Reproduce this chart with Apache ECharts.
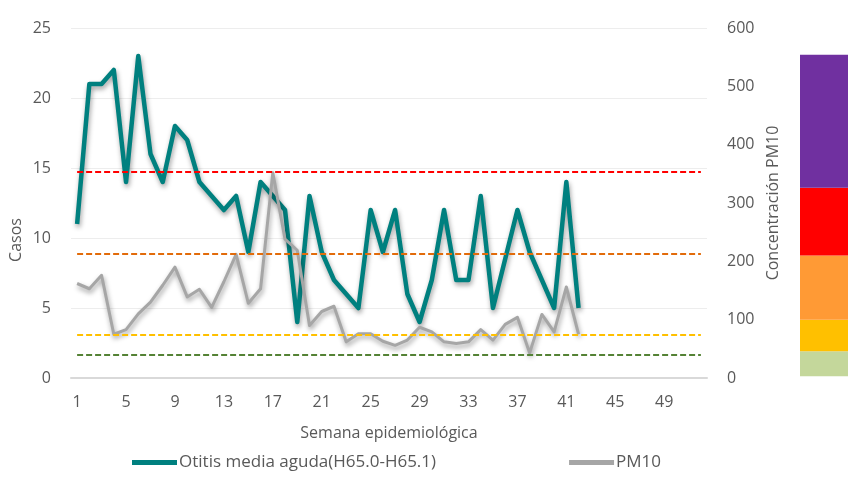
<!DOCTYPE html>
<html>
<head>
<meta charset="utf-8">
<script src="https://cdn.jsdelivr.net/npm/echarts@6/dist/echarts.min.js"></script>
<style>
  html, body { margin: 0; padding: 0; background: #ffffff; }
  #chart { width: 856px; height: 477px; }
</style>
</head>
<body>
<div id="chart"></div>
<script>
// Epidemiological weeks 1..52
const weeks = Array.from({ length: 52 }, (_, i) => String(i + 1));

// Weekly cases of acute otitis media (left axis)
const otitis = [11, 21, 21, 22, 14, 23, 16, 14, 18, 17, 14, 13, 12, 13, 9, 14, 13, 12, 4, 13,
  9, 7, 6, 5, 12, 9, 12, 6, 4, 7, 12, 7, 7, 13, 5, 8.5, 12, 9, 7, 5, 14, 5];

// Weekly PM10 concentration (right axis)
const pm10 = [162, 153, 176, 75, 83, 110, 130, 159, 190, 139, 152, 121, 165, 212, 128, 153, 352, 238, 219, 90,
  114, 123, 62, 76, 76, 63, 56, 65, 87, 79, 62, 59, 62, 83, 65, 92, 104, 43, 109, 79, 156, 75];

// PM10 reference thresholds (dashed lines)
const thresholds = [
  { value: 354, color: '#FF0000' },
  { value: 213, color: '#E26B0A' },
  { value: 75, color: '#FFC000' },
  { value: 40, color: '#548235' }
];

// Colour scale bands on the right (bottom offset, then band heights)
const bandNames = ['base', 'Bueno', 'Aceptable', 'Dañino grupos sensibles', 'Dañino', 'Muy dañino'];
const bandValues = [3, 43, 54, 110, 116, 228];
const bandColors = ['transparent', '#C4D79B', '#FFC000', '#FF9A35', '#FF0000', '#7030A0'];

const leftTicks = { min: 0, max: 25, interval: 5 };
const rightTicks = { min: 0, max: 600, interval: 100 };

const FONT = 'Open Sans';
const TXT = '#595959';

const chart = echarts.init(document.getElementById('chart'));

const shadow = { shadowColor: 'rgba(0,0,0,0.38)', shadowBlur: 5, shadowOffsetY: 3, shadowOffsetX: 1 };

const series = [
  {
    name: 'umbrales',
    type: 'line',
    xAxisIndex: 0,
    yAxisIndex: 1,
    data: [],
    silent: true,
    z: 1,
    markLine: {
      symbol: ['none', 'none'],
      silent: true,
      label: { show: false },
      animation: false,
      data: thresholds.map(t => [
        { coord: [weeks[0], t.value], lineStyle: { color: t.color, type: [6, 3], width: 2 } },
        { coord: [weeks[weeks.length - 1], t.value] }
      ])
    }
  },
  {
    name: 'Otitis media aguda(H65.0-H65.1)',
    type: 'line',
    xAxisIndex: 0,
    yAxisIndex: 0,
    data: otitis,
    symbol: 'none',
    z: 3,
    lineStyle: Object.assign({ color: '#00807F', width: 4.5, join: 'round' }, shadow),
    itemStyle: { color: '#00807F' }
  },
  {
    name: 'PM10',
    type: 'line',
    xAxisIndex: 0,
    yAxisIndex: 1,
    data: pm10,
    symbol: 'none',
    z: 4,
    lineStyle: Object.assign({ color: '#A6A6A6', width: 3, join: 'round' }, shadow),
    itemStyle: { color: '#A6A6A6' }
  }
];

bandValues.forEach((v, i) => {
  series.push({
    name: bandNames[i],
    type: 'bar',
    xAxisIndex: 1,
    yAxisIndex: 2,
    stack: 'escala',
    barWidth: '100%',
    silent: true,
    data: [v],
    itemStyle: { color: bandColors[i] }
  });
});

chart.setOption({
  animation: false,
  backgroundColor: '#ffffff',
  textStyle: { fontFamily: FONT },
  grid: [
    { left: 71, right: 149, top: 28, bottom: 99 },
    { left: 800, width: 48, top: 28, bottom: 99 }
  ],
  legend: {
    left: 127,
    top: 449,
    itemGap: 133,
    itemWidth: 45,
    itemHeight: 5,
    icon: 'rect',
    data: ['Otitis media aguda(H65.0-H65.1)', 'PM10'],
    textStyle: { color: TXT, fontSize: 17, fontFamily: FONT, padding: [0, 0, 0, -3] }
  },
  xAxis: [
    {
      type: 'category',
      gridIndex: 0,
      data: weeks,
      boundaryGap: true,
      name: 'Semana epidemiológica',
      nameLocation: 'middle',
      nameGap: 47,
      nameTextStyle: { color: TXT, fontSize: 16, fontFamily: FONT },
      axisLine: { lineStyle: { color: '#D9D9D9', width: 2 } },
      axisTick: { show: false },
      axisLabel: { interval: 3, color: TXT, fontSize: 16, margin: 16, fontFamily: FONT },
      splitLine: { show: false }
    },
    {
      type: 'category',
      gridIndex: 1,
      data: ['escala'],
      show: false
    }
  ],
  yAxis: [
    {
      type: 'value',
      gridIndex: 0,
      min: leftTicks.min,
      max: leftTicks.max,
      interval: leftTicks.interval,
      axisLine: { show: false },
      axisTick: { show: false },
      axisLabel: { color: TXT, fontSize: 16, margin: 20, fontFamily: FONT },
      splitLine: { lineStyle: { color: '#EDEDED', width: 1 } }
    },
    {
      type: 'value',
      gridIndex: 0,
      position: 'right',
      min: rightTicks.min,
      max: rightTicks.max,
      interval: rightTicks.interval,
      name: 'Concentración PM10',
      nameLocation: 'middle',
      nameRotate: 90,
      nameGap: 58,
      nameTextStyle: { color: TXT, fontSize: 16, fontFamily: FONT },
      axisLine: { show: false },
      axisTick: { show: false },
      axisLabel: { color: TXT, fontSize: 16, margin: 20, fontFamily: FONT },
      splitLine: { show: false }
    },
    {
      type: 'value',
      gridIndex: 1,
      min: rightTicks.min,
      max: rightTicks.max,
      show: false
    }
  ],
  graphic: [
    {
      type: 'text',
      x: 16,
      y: 240,
      rotation: Math.PI / 2,
      style: {
        text: 'Casos',
        fill: TXT,
        font: '16px "' + FONT + '"',
        textAlign: 'center',
        textVerticalAlign: 'middle'
      }
    }
  ],
  series: series
});
</script>
</body>
</html>
